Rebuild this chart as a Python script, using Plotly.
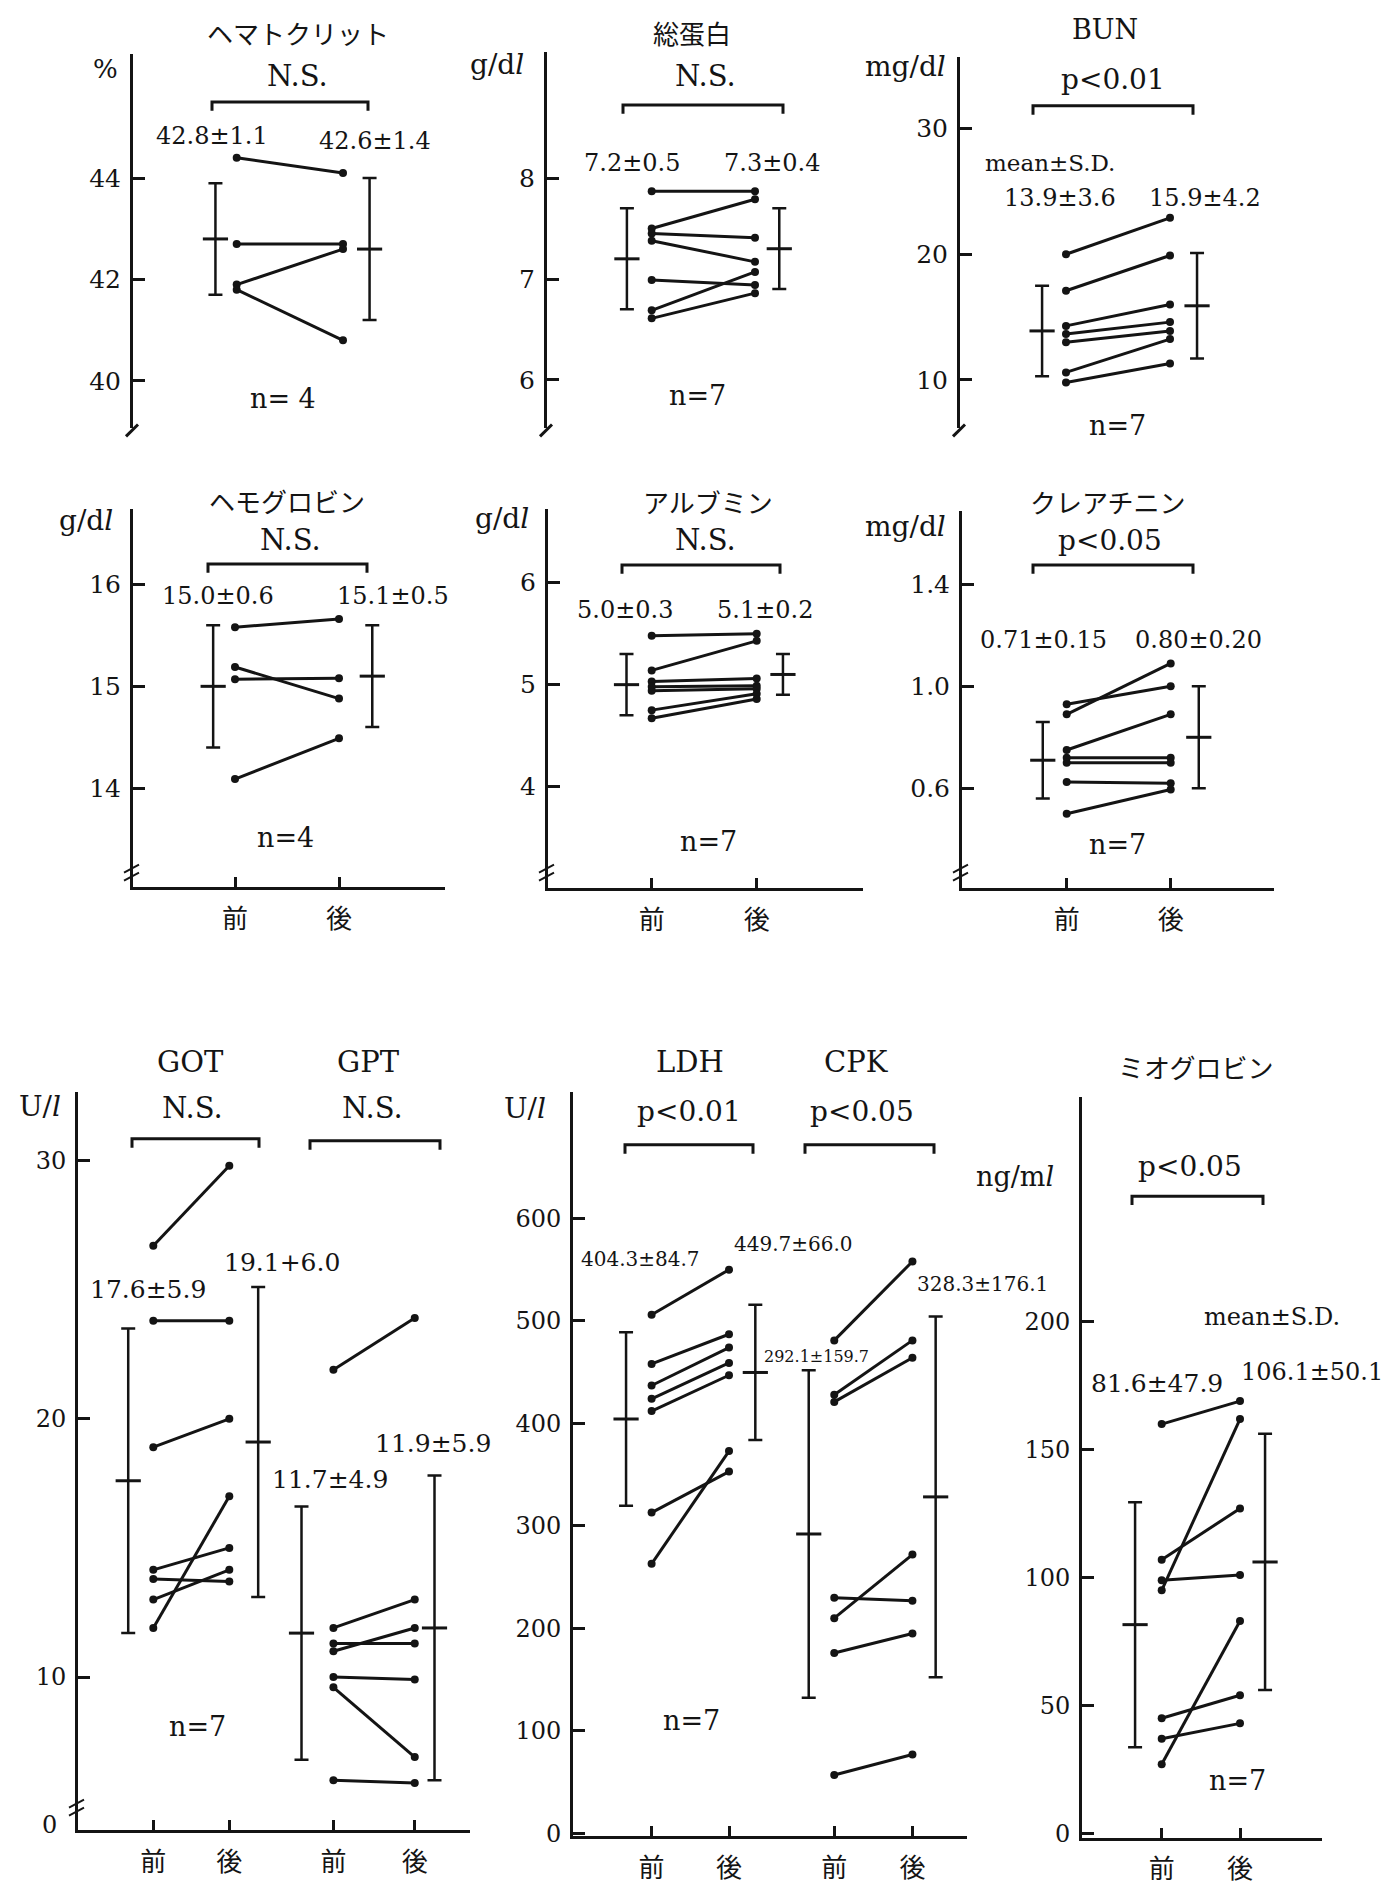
import plotly.graph_objects as go

FIG_W, FIG_H = 1386, 1885
INK = "#141414"
SERIF = "DejaVu Serif"
JP = "Noto Sans CJK JP"

# ---------------- data: per-subject values before (前) and after (後) ----------------
HCT_PRE = [44.4, 42.7, 41.9, 41.8]
HCT_POST = [44.1, 42.7, 42.6, 40.8]
HCT_MEAN, HCT_SD = [42.8, 42.6], [1.1, 1.4]

TP_PRE = [7.87, 7.50, 7.45, 7.38, 6.99, 6.69, 6.61]
TP_POST = [7.87, 7.79, 7.41, 7.17, 6.94, 7.07, 6.86]
TP_MEAN, TP_SD = [7.2, 7.3], [0.5, 0.4]

BUN_PRE = [20.0, 17.1, 14.3, 13.65, 13.0, 10.6, 9.8]
BUN_POST = [22.9, 19.9, 16.0, 14.6, 13.9, 13.25, 11.3]
BUN_MEAN, BUN_SD = [13.9, 15.9], [3.6, 4.2]

HB_PRE = [15.58, 15.19, 15.07, 14.09]
HB_POST = [15.66, 14.88, 15.08, 14.49]
HB_MEAN, HB_SD = [15.0, 15.1], [0.6, 0.5]

ALB_PRE = [5.48, 5.14, 5.03, 4.98, 4.94, 4.75, 4.67]
ALB_POST = [5.50, 5.43, 5.06, 4.99, 4.96, 4.91, 4.86]
ALB_MEAN, ALB_SD = [5.0, 5.1], [0.3, 0.2]

CRE_PRE = [0.93, 0.89, 0.75, 0.72, 0.70, 0.625, 0.50]
CRE_POST = [1.00, 1.09, 0.89, 0.72, 0.70, 0.62, 0.595]
CRE_MEAN, CRE_SD = [0.71, 0.80], [0.15, 0.20]

GOT_PRE = [26.7, 23.8, 18.9, 14.15, 13.8, 13.0, 11.9]
GOT_POST = [29.8, 23.8, 20.0, 15.0, 13.7, 14.15, 17.0]
GOT_MEAN, GOT_SD = [17.6, 19.1], [5.9, 6.0]

GPT_PRE = [21.9, 11.9, 11.0, 11.3, 10.0, 9.6, 6.0]
GPT_POST = [23.9, 13.0, 11.9, 11.3, 9.9, 6.9, 5.9]
GPT_MEAN, GPT_SD = [11.7, 11.9], [4.9, 5.9]

LDH_PRE = [506, 458, 437, 424, 412, 313, 263]
LDH_POST = [550, 487, 474, 459, 447, 353, 373]
LDH_MEAN, LDH_SD = [404.3, 449.7], [84.7, 66.0]

CPK_PRE = [481, 428, 421, 230, 210, 176, 57]
CPK_POST = [558, 481, 464, 227, 272, 195, 77]
CPK_MEAN, CPK_SD = [292.1, 328.3], [159.7, 176.1]

MYO_PRE = [160, 107, 99, 95, 45, 37, 27]
MYO_POST = [169, 127, 101, 162, 54, 43, 83]
MYO_MEAN, MYO_SD = [81.6, 106.1], [47.9, 50.1]

PRE_POST = ["前", "後"]


def pxx(p):
    return p / FIG_W


def pxy(p):
    return 1 - p / FIG_H


def lin(va, pa, vb, pb, p):
    return va + (p - pa) * (vb - va) / (pb - pa)


# ---------------- panel frames (pixel boxes of the axes) ----------------
# box = (left, top, right, bottom); xcal = pixel of x=1 and x=2;
# ycal = (value_a, pixel_a, value_b, pixel_b)
PANELS = {
    1: dict(box=(133, 55, 445, 433), xcal=(236.7, 343.0), ycal=(44, 180, 40, 385),
            yticks=[40, 42, 44], ytext=None, xshow=False, tick_fs=25),
    2: dict(box=(547, 53, 863, 433), xcal=(651.7, 755.0), ycal=(8, 180, 6, 384),
            yticks=[6, 7, 8], ytext=None, xshow=False, tick_fs=25),
    3: dict(box=(960, 58, 1274, 433), xcal=(1066.0, 1170.0), ycal=(30, 130, 10, 384),
            yticks=[10, 20, 30], ytext=None, xshow=False, tick_fs=25),
    4: dict(box=(133, 514, 445, 897), xcal=(235.0, 339.0), ycal=(16, 590.7, 14, 796.7),
            yticks=[14, 15, 16], ytext=None, xshow=True, tick_fs=25),
    5: dict(box=(548, 514, 863, 898), xcal=(651.7, 756.7), ycal=(6, 589, 4, 795),
            yticks=[4, 5, 6], ytext=None, xshow=True, tick_fs=25),
    6: dict(box=(962, 516, 1274, 898), xcal=(1066.7, 1170.7), ycal=(1.4, 590.7, 0.6, 796.7),
            yticks=[0.6, 1.0, 1.4], ytext=["0.6", "1.0", "1.4"], xshow=True, tick_fs=25),
    7: dict(box=(78, 1104, 470, 1850), xcal=(153.3, 229.3), ycal=(30, 1173, 10, 1695),
            yticks=[10, 20, 30], ytext=None, xshow=True, tick_fs=24),
    8: dict(box=(573, 1104, 967, 1856), xcal=(651.6, 729.0), ycal=(600, 1231.5, 0, 1853),
            yticks=[0, 100, 200, 300, 400, 500, 600], ytext=None, xshow=True, tick_fs=24),
    9: dict(box=(1082, 1109, 1322, 1858), xcal=(1161.7, 1240.0), ycal=(200, 1336, 0, 1853),
            yticks=[0, 50, 100, 150, 200], ytext=None, xshow=True, tick_fs=24),
}

# ---------------- measurement groups drawn inside each panel ----------------
# pos = x of 前/後, off = offsets of the mean±SD bars, lab = label centres (px)
GROUPS = [
    dict(ax=1, pos=(1, 2), off=(-0.20, 0.25), pre=HCT_PRE, post=HCT_POST, mean=HCT_MEAN, sd=HCT_SD,
         dec=1, sep=("±", "±"), lab=((212, 137), (375, 143)), fs=(24, 24)),
    dict(ax=2, pos=(1, 2), off=(-0.24, 0.235), pre=TP_PRE, post=TP_POST, mean=TP_MEAN, sd=TP_SD,
         dec=1, sep=("±", "±"), lab=((632, 165), (772, 165)), fs=(24, 24)),
    dict(ax=3, pos=(1, 2), off=(-0.23, 0.26), pre=BUN_PRE, post=BUN_POST, mean=BUN_MEAN, sd=BUN_SD,
         dec=1, sep=("±", "±"), lab=((1060, 200), (1205, 200)), fs=(24, 24)),
    dict(ax=4, pos=(1, 2), off=(-0.21, 0.32), pre=HB_PRE, post=HB_POST, mean=HB_MEAN, sd=HB_SD,
         dec=1, sep=("±", "±"), lab=((218, 602), (393, 602)), fs=(24, 24)),
    dict(ax=5, pos=(1, 2), off=(-0.24, 0.25), pre=ALB_PRE, post=ALB_POST, mean=ALB_MEAN, sd=ALB_SD,
         dec=1, sep=("±", "±"), lab=((625, 617), (765, 617)), fs=(24, 24)),
    dict(ax=6, pos=(1, 2), off=(-0.23, 0.27), pre=CRE_PRE, post=CRE_POST, mean=CRE_MEAN, sd=CRE_SD,
         dec=2, sep=("±", "±"), lab=((1043, 647), (1198, 647)), fs=(24, 24)),
    dict(ax=7, pos=(1, 2), off=(-0.33, 0.38), pre=GOT_PRE, post=GOT_POST, mean=GOT_MEAN, sd=GOT_SD,
         dec=1, sep=("±", "+"), lab=((148, 1303), (282, 1276)), fs=(25, 25)),
    dict(ax=7, pos=(3.37, 4.44), off=(-0.42, 0.26), pre=GPT_PRE, post=GPT_POST, mean=GPT_MEAN, sd=GPT_SD,
         dec=1, sep=("±", "±"), lab=((330, 1495), (433, 1459)), fs=(25, 25)),
    dict(ax=8, pos=(1, 2), off=(-0.33, 0.34), pre=LDH_PRE, post=LDH_POST, mean=LDH_MEAN, sd=LDH_SD,
         dec=1, sep=("±", "±"), lab=((640, 1273), (793, 1257)), fs=(20, 20)),
    dict(ax=8, pos=(3.36, 4.37), off=(-0.33, 0.30), pre=CPK_PRE, post=CPK_POST, mean=CPK_MEAN, sd=CPK_SD,
         dec=1, sep=("±", "±"), lab=((816, 1371), (982, 1298)), fs=(16, 20)),
    dict(ax=9, pos=(1, 2), off=(-0.34, 0.32), pre=MYO_PRE, post=MYO_POST, mean=MYO_MEAN, sd=MYO_SD,
         dec=1, sep=("±", "±"), lab=((1157, 1398), (1312, 1387)), fs=(25, 24)),
]

fig = go.Figure()
layout = dict(
    width=FIG_W, height=FIG_H, margin=dict(l=0, r=0, t=0, b=0),
    paper_bgcolor="white", plot_bgcolor="white", showlegend=False,
    font=dict(family=SERIF, color=INK),
)

for i, p in PANELS.items():
    L, T, R, B = p["box"]
    p1, p2 = p["xcal"]
    va, pa, vb, pb = p["ycal"]
    sx = "" if i == 1 else str(i)
    xticks = sorted({g["pos"][k] for g in GROUPS if g["ax"] == i for k in (0, 1)})
    layout["xaxis" + sx] = dict(
        domain=[pxx(L), pxx(R)], range=[lin(1, p1, 2, p2, L), lin(1, p1, 2, p2, R)],
        anchor="y" + sx, visible=p["xshow"], showline=True, linewidth=3, linecolor=INK,
        tickvals=xticks, ticktext=PRE_POST * (len(xticks) // 2),
        ticks="inside", ticklen=10, tickwidth=3, tickcolor=INK,
        tickfont=dict(family=JP, size=26, color=INK), ticklabelstandoff=6,
        showgrid=False, zeroline=False, fixedrange=True,
    )
    yax = dict(
        domain=[pxy(B), pxy(T)], range=[lin(va, pa, vb, pb, B), lin(va, pa, vb, pb, T)],
        anchor="x" + sx, showline=True, linewidth=3, linecolor=INK,
        tickvals=p["yticks"], ticks="inside", ticklen=12, tickwidth=3, tickcolor=INK,
        tickfont=dict(family=SERIF, size=p["tick_fs"], color=INK), ticklabelstandoff=4,
        showgrid=False, zeroline=False, fixedrange=True,
    )
    if p["ytext"]:
        yax["ticktext"] = p["ytext"]
    layout["yaxis" + sx] = yax

annotations = []


def ann(text, x, y, size, family=SERIF):
    annotations.append(dict(text=text, x=pxx(x), y=pxy(y), xref="paper", yref="paper",
                            xanchor="center", yanchor="middle", showarrow=False,
                            font=dict(family=family, size=size, color=INK)))


for g in GROUPS:
    sx = "" if g["ax"] == 1 else str(g["ax"])
    xa, ya = "x" + sx, "y" + sx
    xb, xf = g["pos"]
    for a, b in zip(g["pre"], g["post"]):
        fig.add_trace(go.Scatter(
            x=[xb, xf], y=[a, b], xaxis=xa, yaxis=ya, mode="lines+markers",
            line=dict(color=INK, width=3), marker=dict(color=INK, size=8),
            hoverinfo="skip", cliponaxis=False))
    fig.add_trace(go.Scatter(
        x=[xb + g["off"][0], xf + g["off"][1]], y=g["mean"], xaxis=xa, yaxis=ya,
        mode="markers", hoverinfo="skip", cliponaxis=False,
        marker=dict(symbol="line-ew", size=18, color=INK, line=dict(width=3, color=INK)),
        error_y=dict(type="data", array=g["sd"], visible=True, color=INK, thickness=2.5, width=7)))
    for k in (0, 1):
        txt = f"{g['mean'][k]:.{g['dec']}f}{g['sep'][k]}{g['sd'][k]:.{g['dec']}f}"
        ann(txt, g["lab"][k][0], g["lab"][k][1], g["fs"][k])

# titles, significance, units and sample sizes
TEXTS = [
    ("ヘマトクリット", 298, 33, 26, JP), ("N.S.", 297, 77, 29, SERIF), ("%", 105, 70, 26, SERIF),
    ("n= 4", 283, 403, 27, SERIF),
    ("総蛋白", 692, 33, 26, JP), ("N.S.", 705, 77, 29, SERIF), ("g/d<i>l</i>", 497, 65, 28, SERIF),
    ("n=7", 697, 400, 27, SERIF),
    ("BUN", 1105, 30, 27, SERIF), ("p&lt;0.01", 1113, 80, 28, SERIF), ("mg/d<i>l</i>", 905, 67, 28, SERIF),
    ("mean±S.D.", 1050, 165, 23, SERIF), ("n=7", 1117, 430, 27, SERIF),
    ("ヘモグロビン", 287, 506, 26, JP), ("N.S.", 290, 546, 29, SERIF), ("g/d<i>l</i>", 86, 526, 28, SERIF),
    ("n=4", 285, 846, 27, SERIF),
    ("アルブミン", 708, 507, 26, JP), ("N.S.", 705, 546, 29, SERIF), ("g/d<i>l</i>", 502, 524, 28, SERIF),
    ("n=7", 708, 851, 27, SERIF),
    ("クレアチニン", 1107, 507, 26, JP), ("p&lt;0.05", 1110, 546, 28, SERIF), ("mg/d<i>l</i>", 905, 532, 28, SERIF),
    ("n=7", 1117, 854, 27, SERIF),
    ("GOT", 190, 1073, 29, SERIF), ("GPT", 368, 1073, 29, SERIF),
    ("N.S.", 192, 1120, 29, SERIF), ("N.S.", 372, 1120, 29, SERIF),
    ("U/<i>l</i>", 40, 1118, 28, SERIF), ("n=7", 197, 1745, 27, SERIF), ("0", 50, 1845, 24, SERIF),
    ("LDH", 690, 1073, 29, SERIF), ("CPK", 856, 1073, 29, SERIF),
    ("p&lt;0.01", 689, 1123, 28, SERIF), ("p&lt;0.05", 862, 1123, 28, SERIF),
    ("U/<i>l</i>", 525, 1120, 28, SERIF), ("n=7", 691, 1739, 27, SERIF),
    ("ミオグロビン", 1195, 1078, 26, JP), ("p&lt;0.05", 1190, 1179, 28, SERIF),
    ("ng/m<i>l</i>", 1015, 1189, 27, SERIF), ("mean±S.D.", 1272, 1331, 24, SERIF),
    ("n=7", 1237, 1800, 27, SERIF),
]
for t in TEXTS:
    ann(*t)

shapes = []

# brackets spanning the 前/後 comparison
BRACKETS = [(212, 368, 103), (623, 783, 106), (1033, 1193, 107),
            (208, 367, 570), (622, 780, 571), (1033, 1193, 571),
            (132, 259, 1151), (310, 440, 1153), (625, 753, 1157), (805, 934, 1157),
            (1132, 1263, 1209)]
for x1, x2, y in BRACKETS:
    path = (f"M {pxx(x1)},{pxy(y + 9)} L {pxx(x1)},{pxy(y)} "
            f"L {pxx(x2)},{pxy(y)} L {pxx(x2)},{pxy(y + 9)}")
    shapes.append(dict(type="path", path=path, xref="paper", yref="paper",
                       line=dict(color=INK, width=3)))


def seg(x0, y0, x1, y1, w=3):
    shapes.append(dict(type="line", xref="paper", yref="paper",
                       x0=pxx(x0), y0=pxy(y0), x1=pxx(x1), y1=pxy(y1),
                       line=dict(color=INK, width=w)))


# axis-break marks
for ax_x in (133, 547, 960):
    seg(ax_x - 7, 441, ax_x + 5, 429, 3)
for ax_x in (133, 548, 962):
    for yc in (878, 886):
        seg(ax_x - 9, yc + 4, ax_x + 6, yc - 4, 2)
for yc in (1823, 1831):
    seg(78 - 9, yc + 4, 78 + 6, yc - 4, 2)

layout["annotations"] = annotations
layout["shapes"] = shapes
fig.update_layout(**layout)

fig.write_html("out.html")
